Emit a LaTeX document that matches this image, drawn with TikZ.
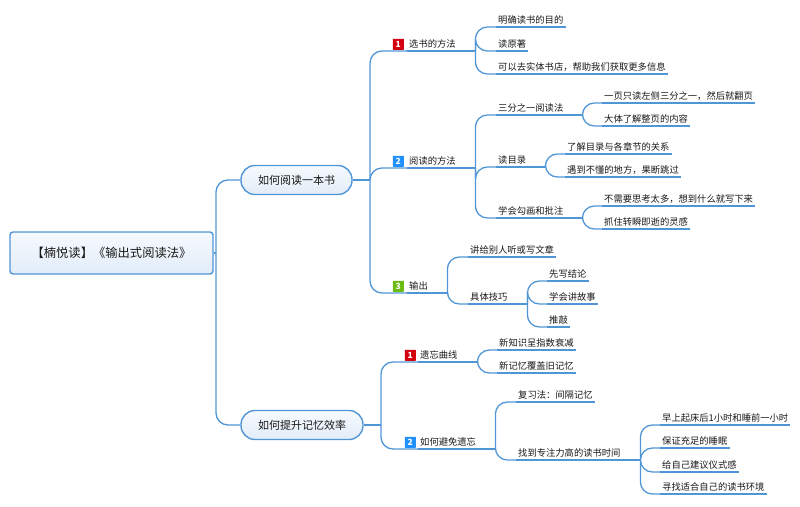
\documentclass[tikz,border=0pt]{standalone}
\usepackage{fontspec}
\setmainfont{Noto Sans CJK SC}
\usetikzlibrary{positioning}
\definecolor{linkblue}{HTML}{5096D6}
\definecolor{boxtop}{HTML}{F6FAFE}
\definecolor{boxbottom}{HTML}{E2ECF8}
\definecolor{tagred}{HTML}{D40010}
\definecolor{tagblue}{HTML}{2090FF}
\definecolor{taggreen}{HTML}{6CBB10}
\tikzset{
	link/.style={draw=linkblue, line width=1.3pt, rounded corners=12pt},
	topic/.style={anchor=south west, inner xsep=2pt, inner ysep=1.8pt, text height=8pt, text depth=1.5pt, text=black!90, font=\fontsize{9.3}{11}\selectfont},
	rootbox/.style={draw=linkblue, line width=1.4pt, rounded corners=3pt, top color=boxtop, bottom color=boxbottom, text=black!90, font=\fontsize{12.3}{14}\selectfont, minimum width=203pt, minimum height=42pt},
	mainbox/.style={rootbox, rounded corners=14pt, font=\fontsize{11}{13}\selectfont, minimum height=29pt},
	tag/.style={fill=#1, rounded corners=0.5pt, text=white, inner sep=0pt, minimum size=11pt, font=\fontsize{8.5}{9}\bfseries\selectfont}
}
\begin{document}
\begin{tikzpicture}[x=1pt, y=-1pt]
\useasboundingbox (0,0) rectangle (800,506);
\node[rootbox] (root) at (111.5,253) {【楠悦读】《输出式阅读法》};
\node[mainbox, minimum width=111pt] (read) at (296.5,180) {如何阅读一本书};
\node[mainbox, minimum width=122pt] (memory) at (302,425) {如何提升记忆效率};
\coordinate (jroot) at (216,253);
\coordinate (jread) at (370,180);
\coordinate (jmemory) at (381,425);

% how to read
\node[topic, text width=64pt] (choose) at (407,51) {选书的方法};
\node[topic, text width=64pt] (method) at (407,168) {阅读的方法};
\node[topic, text width=36pt] (output) at (407,293) {输出};
\node[tag=tagred, left=3pt of choose.west] (tagchoose) {1};
\node[tag=tagblue, left=3pt of method.west] (tagmethod) {2};
\node[tag=taggreen, left=3pt of output.west] (tagoutput) {3};

\node[topic] (goal) at (496,27) {明确读书的目的};
\node[topic] (original) at (496,51) {读原著};
\node[topic] (store) at (496,74) {可以去实体书店，帮助我们获取更多信息};

\node[topic, text width=82pt] (third) at (496,115) {三分之一阅读法};
\node[topic, text width=45pt] (toc) at (496,167) {读目录};
\node[topic, text width=82pt] (mark) at (496,218) {学会勾画和批注};
\node[topic] (page) at (602,103) {一页只读左侧三分之一，然后就翻页};
\node[topic] (whole) at (602,126) {大体了解整页的内容};
\node[topic] (chapter) at (565,154) {了解目录与各章节的关系};
\node[topic] (skip) at (565,177) {遇到不懂的地方，果断跳过};
\node[topic] (write) at (602,206) {不需要思考太多，想到什么就写下来};
\node[topic] (idea) at (602,229) {抓住转瞬即逝的灵感};

\node[topic] (tell) at (468,257) {讲给别人听或写文章};
\node[topic, text width=55pt] (skill) at (468,304) {具体技巧};
\node[topic] (conclude) at (547,281) {先写结论};
\node[topic] (story) at (547,304) {学会讲故事};
\node[topic] (polish) at (547,327) {推敲};

% how to remember
\node[topic, text width=55pt] (curve) at (418,362) {遗忘曲线};
\node[topic, text width=73pt] (avoid) at (418,449) {如何避免遗忘};
\node[tag=tagred, left=2pt of curve.west] (tagcurve) {1};
\node[tag=tagblue, left=2pt of avoid.west] (tagavoid) {2};

\node[topic] (decay) at (497,350) {新知识呈指数衰减};
\node[topic] (cover) at (497,373) {新记忆覆盖旧记忆};
\node[topic] (review) at (516,402) {复习法：间隔记忆};
\node[topic, text width=120pt] (focus) at (516,460) {找到专注力高的读书时间};
\node[topic] (morning) at (660,425) {早上起床后1小时和睡前一小时};
\node[topic] (sleep) at (660,448) {保证充足的睡眠};
\node[topic] (ritual) at (660,472) {给自己建议仪式感};
\node[topic] (place) at (660,494) {寻找适合自己的读书环境};

% connectors
\draw[link] (root.east) -- (jroot);
\draw[link] (jroot) |- (read.west);
\draw[link] (jroot) |- (memory.west);
\draw[link] (read.east) -- (jread);
\draw[link] (memory.east) -- (jmemory);
\foreach \to in {choose,method,output}
	\draw[link] (jread) |- (\to.south west);
\foreach \to in {curve,avoid}
	\draw[link] (jmemory) |- (\to.south west);
\foreach \from/\to in {choose/goal,choose/original,choose/store,method/third,method/toc,method/mark,
	third/page,third/whole,toc/chapter,toc/skip,mark/write,mark/idea,output/tell,output/skill,
	skill/conclude,skill/story,skill/polish,curve/decay,curve/cover,avoid/review,avoid/focus,
	focus/morning,focus/sleep,focus/ritual,focus/place}
	\draw[link] (\from.south east) |- (\to.south west);
% underlines
\foreach \n in {choose,method,output,goal,original,store,third,toc,mark,page,whole,chapter,skip,write,idea,
	tell,skill,conclude,story,polish,curve,avoid,decay,cover,review,focus,morning,sleep,ritual,place}
	\draw[link] (\n.south west) -- (\n.south east);
\end{tikzpicture}
\end{document}
